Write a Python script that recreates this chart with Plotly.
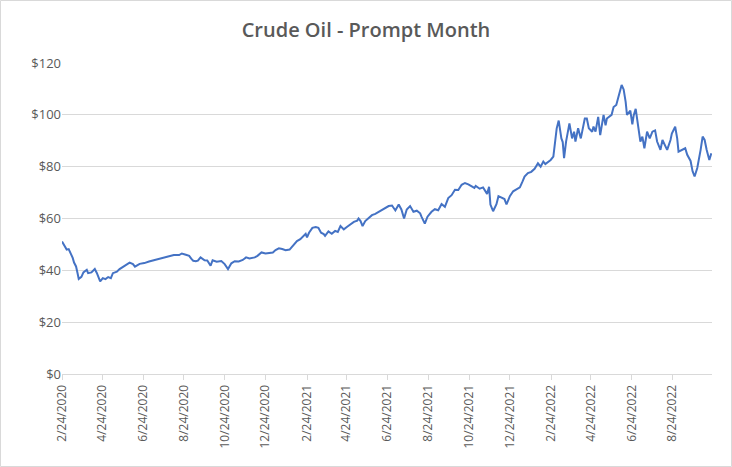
import plotly.graph_objects as go

dates = [
"2020-02-24","2020-02-27","2020-03-02","2020-03-05","2020-03-09","2020-03-11","2020-03-13","2020-03-16",
"2020-03-18","2020-03-20","2020-03-24","2020-03-27","2020-04-01","2020-04-03","2020-04-08","2020-04-13",
"2020-04-16","2020-04-18","2020-04-21","2020-04-25","2020-04-29","2020-05-03","2020-05-07","2020-05-10",
"2020-05-16","2020-05-20","2020-05-28","2020-06-04","2020-06-09","2020-06-12","2020-06-19","2020-06-26",
"2020-07-03","2020-07-11","2020-07-18","2020-07-25","2020-08-02","2020-08-09","2020-08-17","2020-08-21",
"2020-08-27","2020-09-01","2020-09-04","2020-09-07","2020-09-11","2020-09-14","2020-09-18","2020-09-24",
"2020-09-28","2020-10-03","2020-10-06","2020-10-12","2020-10-19","2020-10-24","2020-10-29","2020-11-03",
"2020-11-08","2020-11-14","2020-11-20","2020-11-25","2020-11-30","2020-12-08","2020-12-12","2020-12-18",
"2020-12-24","2020-12-30","2021-01-04","2021-01-08","2021-01-13","2021-01-18","2021-01-23","2021-01-29",
"2021-02-04","2021-02-09","2021-02-14","2021-02-16","2021-02-22","2021-02-24","2021-02-27","2021-03-04",
"2021-03-09","2021-03-13","2021-03-17","2021-03-21","2021-03-23","2021-03-28","2021-04-02","2021-04-07",
"2021-04-11","2021-04-15","2021-04-20","2021-04-25","2021-04-30","2021-05-05","2021-05-10","2021-05-12",
"2021-05-15","2021-05-18","2021-05-22","2021-05-27","2021-06-01","2021-06-06","2021-06-11","2021-06-16",
"2021-06-21","2021-06-26","2021-07-01","2021-07-06","2021-07-11","2021-07-15","2021-07-19","2021-07-23",
"2021-07-28","2021-08-02","2021-08-07","2021-08-12","2021-08-14","2021-08-19","2021-08-23","2021-08-29",
"2021-09-03","2021-09-08","2021-09-13","2021-09-18","2021-09-23","2021-09-28","2021-10-03","2021-10-08",
"2021-10-13","2021-10-18","2021-10-23","2021-10-28","2021-11-01","2021-11-03","2021-11-09","2021-11-14",
"2021-11-18","2021-11-20","2021-11-23","2021-11-25","2021-11-29","2021-12-02","2021-12-04","2021-12-07",
"2021-12-12","2021-12-16","2021-12-19","2021-12-24","2021-12-29","2022-01-03","2022-01-08","2022-01-12",
"2022-01-15","2022-01-20","2022-01-25","2022-01-30","2022-02-04","2022-02-08","2022-02-12","2022-02-15",
"2022-02-19","2022-02-23","2022-02-27","2022-03-01","2022-03-04","2022-03-07","2022-03-11","2022-03-13",
"2022-03-15","2022-03-18","2022-03-23","2022-03-27","2022-03-30","2022-04-01","2022-04-05","2022-04-09",
"2022-04-15","2022-04-18","2022-04-21","2022-04-26","2022-04-28","2022-05-01","2022-05-05","2022-05-08",
"2022-05-13","2022-05-16","2022-05-18","2022-05-25","2022-05-28","2022-06-01","2022-06-05","2022-06-09",
"2022-06-12","2022-06-15","2022-06-17","2022-06-22","2022-06-25","2022-06-27","2022-06-30","2022-07-04",
"2022-07-07","2022-07-10","2022-07-13","2022-07-17","2022-07-21","2022-07-25","2022-07-29","2022-08-01",
"2022-08-06","2022-08-09","2022-08-13","2022-08-16","2022-08-21","2022-08-23","2022-08-28","2022-08-31",
"2022-09-02","2022-09-07","2022-09-12","2022-09-15","2022-09-20","2022-09-23","2022-09-26","2022-09-30",
"2022-10-02","2022-10-05","2022-10-08","2022-10-11","2022-10-14","2022-10-18","2022-10-21",
]

prices = [
51.1,49.5,48.0,48.2,46.0,44.8,43.0,41.5,
39.2,36.7,37.5,39.2,40.2,38.9,39.2,40.5,
39.0,37.9,35.7,37.0,36.6,37.4,37.0,38.9,
39.5,40.5,41.8,43.0,42.4,41.4,42.5,42.8,
43.4,44.0,44.3,45.0,45.6,45.9,45.9,46.5,
46.0,45.6,44.5,43.7,43.5,43.7,45.0,43.9,
43.8,41.8,43.9,43.3,43.6,42.4,40.5,42.7,
43.5,43.4,44.0,45.0,44.6,45.0,45.6,46.9,
46.5,46.6,46.9,47.8,48.5,48.2,47.8,48.0,
50.0,51.3,52.0,52.5,54.1,52.7,54.5,56.4,
56.7,56.4,54.5,54.0,53.3,55.0,54.1,55.2,
54.8,57.1,55.8,56.8,57.7,58.7,59.2,60.0,
59.0,57.1,59.0,60.0,61.3,61.8,62.6,63.1,
64.1,64.8,65.0,63.1,65.4,63.5,60.0,63.5,
64.8,62.6,63.0,62.0,60.7,58.0,60.7,62.6,
63.6,63.2,65.6,64.5,67.9,69.0,71.1,71.0,
73.0,73.7,73.2,72.4,71.8,72.6,71.5,72.0,
70.5,69.5,72.2,65.4,62.8,64.5,65.5,68.6,
68.0,67.5,65.4,68.6,70.5,71.2,72.0,74.3,
76.2,77.5,78.0,79.2,81.3,80.0,82.0,81.0,
81.8,82.6,83.9,88.4,94.8,97.8,90.9,89.5,
83.3,89.7,96.7,90.9,93.5,89.7,94.8,90.9,
98.6,98.6,94.8,93.5,95.5,93.5,99.2,92.2,
100.0,96.0,98.6,100.0,103.0,103.8,107.5,111.5,
109.8,105.0,100.0,101.6,96.3,99.8,102.3,95.0,
89.7,91.6,87.1,93.5,90.9,93.5,94.0,89.7,
86.5,90.3,87.7,86.5,90.3,92.8,95.4,90.9,
85.8,86.5,87.1,84.6,82.2,78.2,76.2,79.5,
82.0,86.5,91.6,90.3,86.5,82.6,85.2,
]

tick_dates = ["2020-02-24","2020-04-24","2020-06-24","2020-08-24","2020-10-24","2020-12-24",
              "2021-02-24","2021-04-24","2021-06-24","2021-08-24","2021-10-24","2021-12-24",
              "2022-02-24","2022-04-24","2022-06-24","2022-08-24"]
tick_labels = ["2/24/2020","4/24/2020","6/24/2020","8/24/2020","10/24/2020","12/24/2020",
               "2/24/2021","4/24/2021","6/24/2021","8/24/2021","10/24/2021","12/24/2021",
               "2/24/2022","4/24/2022","6/24/2022","8/24/2022"]
y_ticks = [0, 20, 40, 60, 80, 100, 120]
y_labels = ["$0", "$20", "$40", "$60", "$80", "$100", "$120"]

title_text = "Crude Oil - Prompt Month"

fig = go.Figure()
fig.add_trace(go.Scatter(x=dates, y=prices, mode="lines",
                         line=dict(color="#4472C4", width=2), showlegend=False))

W, H = 732, 467
ml, mr, mt, mb = 62, 20, 63, 93
pw, ph = W - ml - mr, H - mt - mb

fig.update_layout(
    width=W, height=H,
    margin=dict(l=ml, r=mr, t=mt, b=mb),
    paper_bgcolor="white", plot_bgcolor="white",
    font=dict(family="Open Sans, Liberation Sans, sans-serif", color="#595959", size=12),
    title=dict(text=title_text, x=0.5, xanchor="center", y=1 - 30/H, yanchor="middle",
               font=dict(size=20, color="#595959", family="Open Sans, sans-serif", weight=600)),
    xaxis=dict(type="date", range=["2020-02-24", "2022-10-22"],
               tickmode="array", tickvals=tick_dates, ticktext=tick_labels,
               tickangle=-90, showgrid=False, showline=True, linecolor="#d9d9d9", linewidth=1,
               ticks="outside", ticklen=5, tickcolor="#d9d9d9",
               tickfont=dict(size=12, color="#595959"), zeroline=False),
    yaxis=dict(range=[0, 120], tickmode="array", tickvals=y_ticks, ticktext=y_labels,
               showgrid=True, gridcolor="#d9d9d9", gridwidth=1, zeroline=False,
               showline=False, ticks="", tickfont=dict(size=13, color="#595959")),
)

fig.add_shape(type="rect", xref="paper", yref="paper",
              x0=(0.5 - ml) / pw, x1=(W - 0.5 - ml) / pw,
              y0=(0.5 - mb) / ph, y1=(H - mb - 0.5) / ph,
              line=dict(color="#d9d9d9", width=1), layer="below")

fig.write_html("out.html")
